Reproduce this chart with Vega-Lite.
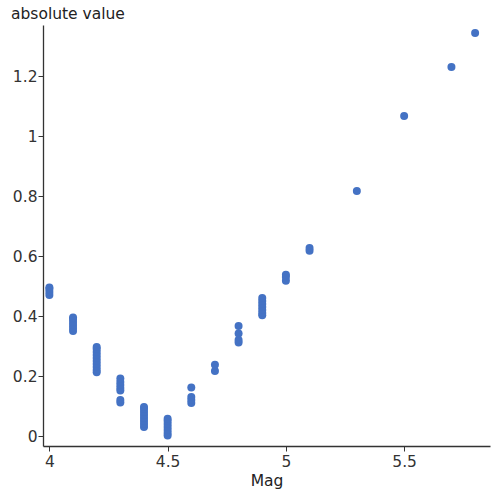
{
  "$schema": "https://vega.github.io/schema/vega-lite/v6.json",
  "width": 447,
  "height": 421,
  "autosize": {"type": "none"},
  "padding": {"left": 43, "top": 25, "right": 1, "bottom": 51},
  "background": "white",
  "config": {
    "view": {"stroke": null},
    "font": "DejaVu Sans",
    "axis": {
      "grid": false,
      "domainColor": "#333333",
      "tickColor": "#333333",
      "labelColor": "#333333",
      "titleColor": "#222222",
      "labelFont": "DejaVu Sans",
      "titleFont": "DejaVu Sans",
      "labelFontSize": 15.5,
      "titleFontSize": 15.5,
      "titleFontWeight": "normal",
      "tickSize": 5,
      "domainWidth": 1.3
    }
  },
  "data": {
    "values": [
      {"Mag": 4.0, "v": 0.47}, {"Mag": 4.0, "v": 0.48}, {"Mag": 4.0, "v": 0.49}, {"Mag": 4.0, "v": 0.495},
      {"Mag": 4.1, "v": 0.35}, {"Mag": 4.1, "v": 0.36}, {"Mag": 4.1, "v": 0.37}, {"Mag": 4.1, "v": 0.38}, {"Mag": 4.1, "v": 0.39}, {"Mag": 4.1, "v": 0.395},
      {"Mag": 4.2, "v": 0.213}, {"Mag": 4.2, "v": 0.22}, {"Mag": 4.2, "v": 0.23}, {"Mag": 4.2, "v": 0.24}, {"Mag": 4.2, "v": 0.25}, {"Mag": 4.2, "v": 0.26}, {"Mag": 4.2, "v": 0.27}, {"Mag": 4.2, "v": 0.28}, {"Mag": 4.2, "v": 0.29}, {"Mag": 4.2, "v": 0.297},
      {"Mag": 4.3, "v": 0.112}, {"Mag": 4.3, "v": 0.12}, {"Mag": 4.3, "v": 0.152}, {"Mag": 4.3, "v": 0.16}, {"Mag": 4.3, "v": 0.17}, {"Mag": 4.3, "v": 0.18}, {"Mag": 4.3, "v": 0.192},
      {"Mag": 4.4, "v": 0.03}, {"Mag": 4.4, "v": 0.04}, {"Mag": 4.4, "v": 0.05}, {"Mag": 4.4, "v": 0.06}, {"Mag": 4.4, "v": 0.07}, {"Mag": 4.4, "v": 0.08}, {"Mag": 4.4, "v": 0.09}, {"Mag": 4.4, "v": 0.097},
      {"Mag": 4.5, "v": 0.002}, {"Mag": 4.5, "v": 0.01}, {"Mag": 4.5, "v": 0.02}, {"Mag": 4.5, "v": 0.03}, {"Mag": 4.5, "v": 0.04}, {"Mag": 4.5, "v": 0.05}, {"Mag": 4.5, "v": 0.058},
      {"Mag": 4.6, "v": 0.11}, {"Mag": 4.6, "v": 0.12}, {"Mag": 4.6, "v": 0.13}, {"Mag": 4.6, "v": 0.162},
      {"Mag": 4.7, "v": 0.217}, {"Mag": 4.7, "v": 0.238},
      {"Mag": 4.8, "v": 0.312}, {"Mag": 4.8, "v": 0.32}, {"Mag": 4.8, "v": 0.342}, {"Mag": 4.8, "v": 0.367},
      {"Mag": 4.9, "v": 0.403}, {"Mag": 4.9, "v": 0.41}, {"Mag": 4.9, "v": 0.42}, {"Mag": 4.9, "v": 0.43}, {"Mag": 4.9, "v": 0.44}, {"Mag": 4.9, "v": 0.45}, {"Mag": 4.9, "v": 0.46},
      {"Mag": 5.0, "v": 0.518}, {"Mag": 5.0, "v": 0.53}, {"Mag": 5.0, "v": 0.538},
      {"Mag": 5.1, "v": 0.618}, {"Mag": 5.1, "v": 0.627},
      {"Mag": 5.3, "v": 0.817},
      {"Mag": 5.5, "v": 1.067},
      {"Mag": 5.7, "v": 1.23},
      {"Mag": 5.8, "v": 1.343}
    ]
  },
  "mark": {"type": "circle", "size": 64, "opacity": 1, "color": "#4472C4"},
  "encoding": {
    "x": {
      "field": "Mag", "type": "quantitative", "title": "Mag",
      "scale": {"domain": [3.973, 5.863], "nice": false, "zero": false},
      "axis": {"values": [4, 4.5, 5, 5.5], "format": "~g", "titlePadding": 4, "labelPadding": 3}
    },
    "y": {
      "field": "v", "type": "quantitative", "title": "absolute value",
      "scale": {"domain": [-0.033, 1.37], "nice": false, "zero": false},
      "axis": {"values": [0, 0.2, 0.4, 0.6, 0.8, 1, 1.2], "format": "~g", "titleAngle": 0, "titleAlign": "left", "titleBaseline": "alphabetic", "titleX": -32.5, "titleY": -6.7, "labelPadding": 1}
    }
  }
}
